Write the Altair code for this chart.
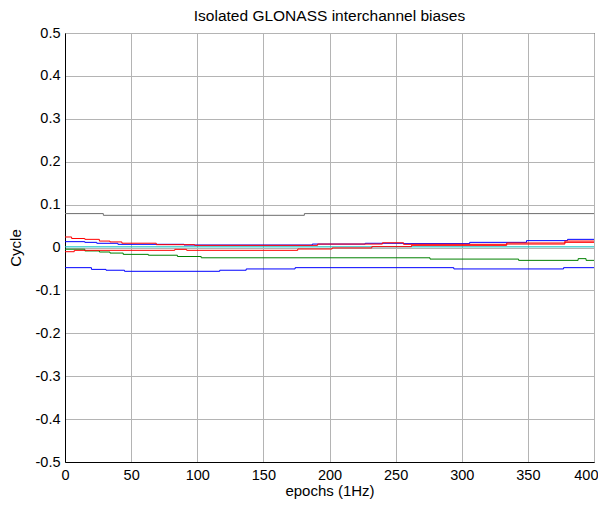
import altair as alt
import pandas as pd

# Step series (epoch where each level starts, level in cycles)
gray_x = [0, 29, 181, 400]
gray_y = [0.079, 0.075, 0.079, 0.079]

blue_low_x = [0, 20, 31, 45, 117, 137, 174, 294, 377, 400]
blue_low_y = [-0.047, -0.051, -0.053, -0.0555, -0.053, -0.050, -0.047, -0.050, -0.047, -0.047]

green_x = [0, 15, 26, 34, 44, 63, 85, 103, 276, 343, 388, 394, 400]
green_y = [-0.004, -0.008, -0.0105, -0.013, -0.016, -0.018, -0.021, -0.024, -0.027, -0.030, -0.026, -0.030, -0.030]

teal_x = [0, 400]
teal_y = [0.0015, 0.0015]

red_b_x = [0, 7, 83, 92, 176, 202, 232, 262, 334, 378, 400]
red_b_y = [-0.0098, -0.0066, -0.0043, -0.0066, -0.0035, -0.001, 0.002, 0.005, 0.008, 0.012, 0.012]

blue_up_x = [0, 15, 24, 40, 90, 187, 227, 256, 306, 349, 380, 400]
blue_up_y = [0.0136, 0.012, 0.0098, 0.0074, 0.0058, 0.008, 0.0098, 0.009, 0.012, 0.016, 0.019, 0.019]

red_a_x = [0, 5, 15, 26, 34, 43, 69, 98, 191, 240, 256, 334, 378, 400]
red_a_y = [0.0245, 0.021, 0.019, 0.015, 0.013, 0.010, 0.0066, 0.005, 0.008, 0.011, 0.0074, 0.0105, 0.015, 0.015]

x_ticks = [0, 50, 100, 150, 200, 250, 300, 350, 400]
y_ticks = [-0.5, -0.4, -0.3, -0.2, -0.1, 0, 0.1, 0.2, 0.3, 0.4, 0.5]

series = [
    ("s1", gray_x, gray_y),
    ("s2", blue_low_x, blue_low_y),
    ("s3", green_x, green_y),
    ("s4", teal_x, teal_y),
    ("s5", red_b_x, red_b_y),
    ("s6", blue_up_x, blue_up_y),
    ("s7", red_a_x, red_a_y),
]
series_names = [s[0] for s in series]
series_colors = ["#6e6e6e", "#0000ff", "#008000", "#00bfbf", "#ff0000", "#0000ff", "#ff0000"]

rows = []
for name, xs, ys in series:
    for x, y in zip(xs, ys):
        rows.append({"series": name, "epoch": x, "value": y})
df = pd.DataFrame(rows)

FONT = "Liberation Sans"

chart = alt.Chart(df).mark_line(interpolate="step-after", strokeWidth=1).encode(
    x=alt.X("epoch:Q",
            scale=alt.Scale(domain=[0, 400], nice=False),
            axis=alt.Axis(values=x_ticks, title="epochs (1Hz)",
                          labelPadding=6, titlePadding=2,
                          labelFlush=True, labelFlushOffset=4)),
    y=alt.Y("value:Q",
            scale=alt.Scale(domain=[-0.5, 0.5], nice=False, zero=False),
            axis=alt.Axis(values=y_ticks,
                          labelExpr="toString(round(datum.value*10)/10)",
                          labelFlush=False,
                          title="Cycle", labelPadding=5, titlePadding=12)),
    color=alt.Color("series:N", scale=alt.Scale(domain=series_names, range=series_colors), legend=None),
    order=alt.Order("epoch:Q"),
).properties(
    width=529, height=429,
    title=alt.Title("Isolated GLONASS interchannel biases", fontSize=15.5, fontWeight="normal",
                    font=FONT, color="black", offset=1, anchor="middle", frame="group"),
    autosize=alt.AutoSizeParams(type="none"),
    padding={"left": 57, "top": 25, "right": 4, "bottom": 38},
).configure_axis(
    grid=True, gridColor="#b4b4b4", gridWidth=1, gridOpacity=1,
    domainColor="black", domainWidth=1, ticks=False,
    labelFont=FONT, labelFontSize=14.5, labelColor="black",
    titleFont=FONT, titleFontSize=15, titleColor="black", titleFontWeight="normal",
).configure_view(
    stroke="black", strokeWidth=1
)

chart.save("out.html", embed_options={"renderer": "svg", "actions": False})
